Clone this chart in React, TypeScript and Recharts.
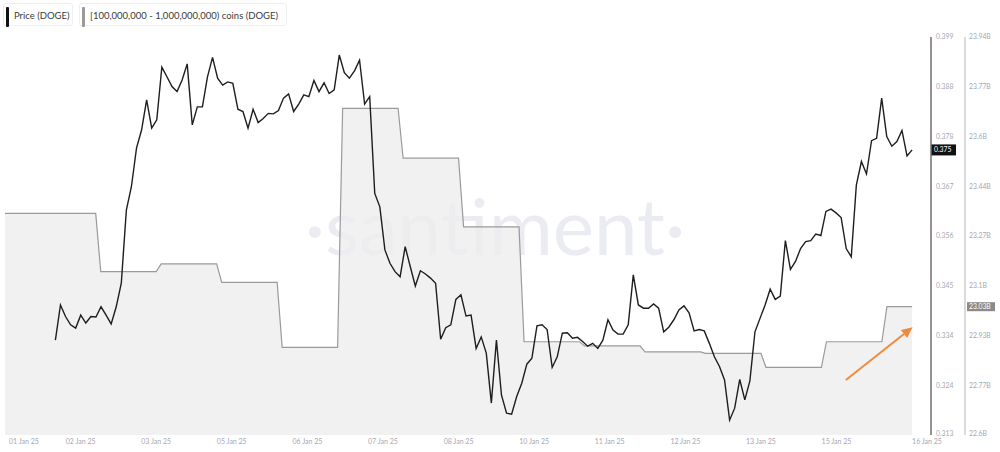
import React from 'react';
import { ComposedChart, Line, Area, XAxis, YAxis, ReferenceLine } from 'recharts';

// ---- X axis (hours since chart start) ----
const xTickHours = [0, 30, 60, 90, 120, 150, 180, 210, 240, 270, 300, 330, 360];
const xTickLabels = [
  '01 Jan 25', '02 Jan 25', '03 Jan 25', '05 Jan 25', '06 Jan 25', '07 Jan 25', '08 Jan 25',
  '10 Jan 25', '11 Jan 25', '12 Jan 25', '13 Jan 25', '15 Jan 25', '16 Jan 25',
];
const xDomainEnd = 367.5;

// ---- Price (DOGE) ----
const priceStartHour = 20;
const priceEndHour = 360;
const priceValues = [
  0.3335, 0.3411, 0.3386, 0.3368, 0.3361, 0.3389, 0.3372, 0.3386, 0.3385, 0.3407,
  0.3389, 0.3370, 0.3407, 0.3458, 0.3616, 0.3667, 0.3750, 0.3789, 0.3854, 0.3793,
  0.3811, 0.3925, 0.3904, 0.3883, 0.3872, 0.3897, 0.3932, 0.3800, 0.3839, 0.3839,
  0.3904, 0.3946, 0.3901, 0.3886, 0.3893, 0.3890, 0.3834, 0.3829, 0.3793, 0.3834,
  0.3805, 0.3814, 0.3825, 0.3824, 0.3831, 0.3858, 0.3867, 0.3829, 0.3845, 0.3865,
  0.3861, 0.3896, 0.3872, 0.3891, 0.3868, 0.3876, 0.3951, 0.3913, 0.3901, 0.3917,
  0.3940, 0.3845, 0.3861, 0.3652, 0.3623, 0.3530, 0.3501, 0.3483, 0.3472, 0.3537,
  0.3494, 0.3452, 0.3485, 0.3478, 0.3469, 0.3458, 0.3337, 0.3362, 0.3368, 0.3423,
  0.3433, 0.3387, 0.3389, 0.3317, 0.3342, 0.3307, 0.3199, 0.3335, 0.3216, 0.3177,
  0.3175, 0.3213, 0.3242, 0.3283, 0.3296, 0.3366, 0.3368, 0.3358, 0.3276, 0.3299,
  0.3350, 0.3351, 0.3339, 0.3341, 0.3332, 0.3322, 0.3328, 0.3317, 0.3335, 0.3379,
  0.3357, 0.3348, 0.3348, 0.3368, 0.3476, 0.3411, 0.3404, 0.3404, 0.3413, 0.3404,
  0.3353, 0.3363, 0.3379, 0.3400, 0.3409, 0.3394, 0.3355, 0.3358, 0.3355, 0.3328,
  0.3299, 0.3278, 0.3249, 0.3162, 0.3188, 0.3250, 0.3206, 0.3247, 0.3353, 0.3382,
  0.3411, 0.3445, 0.3423, 0.3430, 0.3550, 0.3488, 0.3505, 0.3533, 0.3548, 0.3550,
  0.3564, 0.3561, 0.3613, 0.3618, 0.3610, 0.3600, 0.3533, 0.3515, 0.3670, 0.3721,
  0.3694, 0.3766, 0.3771, 0.3858, 0.3775, 0.3754, 0.3764, 0.3788, 0.3733, 0.3746,
];
const priceDomain = [0.313, 0.399];
const priceTickLabels = ['0.313', '0.324', '0.334', '0.345', '0.356', '0.367', '0.378', '0.388', '0.399'];
const lastPriceLabel = '0.375';

// ---- [100,000,000 - 1,000,000,000) coins (DOGE), daily, in billions ----
const coinDailyValues = [
  23.346, 23.150, 23.176, 23.114, 22.895, 23.700, 23.532, 23.301,
  22.914, 22.900, 22.880, 22.875, 22.828, 22.914, 23.032,
];
const coinFirstChangeHour = 36;
const hoursPerDay = 24;
const coinTransitionHours = 2;
const coinDomain = [22.6, 23.94];
const coinTickLabels = ['22.6B', '22.77B', '22.93B', '23.1B', '23.27B', '23.44B', '23.6B', '23.77B', '23.94B'];
const lastCoinLabel = '23.03B';

// ---- annotation arrow (hour, price) ----
const arrowStart = { h: 333.7, price: 0.3249 };
const arrowEnd = { h: 360.2, price: 0.3363 };

// ---- derived tables ----
const priceStep = (priceEndHour - priceStartHour) / (priceValues.length - 1);
const priceData = priceValues.map((v, i) => ({ h: priceStartHour + i * priceStep, price: v }));

const coinData: { h: number; coins: number }[] = [];
coinDailyValues.forEach((v, k) => {
  const start = k === 0 ? 0 : coinFirstChangeHour + hoursPerDay * (k - 1) + coinTransitionHours;
  const end = k === coinDailyValues.length - 1 ? priceEndHour : coinFirstChangeHour + hoursPerDay * k;
  coinData.push({ h: start, coins: v });
  coinData.push({ h: end, coins: v });
});

const evenTicks = (d: number[], n: number) =>
  Array.from({ length: n }, (_, i) => d[0] + ((d[1] - d[0]) * i) / (n - 1));
const priceTicks = evenTicks(priceDomain, priceTickLabels.length);
const coinTicks = evenTicks(coinDomain, coinTickLabels.length);

const FONT = 'Lato, "Open Sans", sans-serif';
const AXIS_COLOR = '#a4a8b3';
const PRICE_AXIS = 'a_price';
const COIN_AXIS = 'b_coin';

const XTick = (props: any) => {
  const { x, y, payload } = props;
  const idx = xTickHours.indexOf(payload.value);
  const last = idx === xTickHours.length - 1;
  const first = idx === 0;
  return (
    <text
      x={first ? x + 4 : x}
      y={y}
      dy="0.71em"
      textAnchor={first || last ? 'start' : 'middle'}
      fontSize={7}
      fontFamily={FONT}
      fill={AXIS_COLOR}
    >
      {xTickLabels[idx]}
    </text>
  );
};

const makeYTick = (ticks: number[], labels: string[]) => (props: any) => {
  const { x, y, payload } = props;
  const idx = ticks.findIndex((t) => Math.abs(t - payload.value) < 1e-9);
  return (
    <text
      x={x}
      y={idx === 0 ? y - 1.5 : y}
      dy="0.35em"
      textAnchor="start"
      fontSize={6.8}
      fontFamily={FONT}
      fill={AXIS_COLOR}
    >
      {labels[idx]}
    </text>
  );
};
const PriceYTick = makeYTick(priceTicks, priceTickLabels);
const CoinYTick = makeYTick(coinTicks, coinTickLabels);

const PriceTag = (props: any) => {
  const vb = props.viewBox || {};
  const x = vb.x + vb.width;
  const y = vb.y;
  return (
    <g>
      <rect x={x} y={y - 5.5} width={25} height={11} fill="#111" />
      <text x={x + 3} y={y} dy="0.35em" fontSize={6.8} fontFamily={FONT} fill="#fff">
        {lastPriceLabel}
      </text>
    </g>
  );
};

const CoinTag = (props: any) => {
  const vb = props.viewBox || {};
  const x = vb.x + vb.width + 36;
  const y = vb.y;
  return (
    <g>
      <rect x={x} y={y - 4.5} width={28} height={9} fill="#8a8a8a" />
      <text x={x + 2} y={y} dy="0.35em" fontSize={6.8} fontFamily={FONT} fill="#fff">
        {lastCoinLabel}
      </text>
    </g>
  );
};

const Arrow = (props: any) => {
  const { x1, y1, x2, y2 } = props;
  if ([x1, y1, x2, y2].some((v) => typeof v !== 'number')) return null;
  const dx = x2 - x1;
  const dy = y2 - y1;
  const len = Math.sqrt(dx * dx + dy * dy);
  const ux = dx / len;
  const uy = dy / len;
  const headLen = 11;
  const headW = 5;
  const bx = x2 - ux * headLen;
  const by = y2 - uy * headLen;
  const px = -uy;
  const py = ux;
  return (
    <g>
      <line x1={x1} y1={y1} x2={bx} y2={by} stroke="#f08a3c" strokeWidth={2} />
      <polygon
        points={`${x2},${y2} ${bx + px * headW},${by + py * headW} ${bx - px * headW},${by - py * headW}`}
        fill="#f08a3c"
      />
    </g>
  );
};

const LegendItem = ({ left, width, bar, text }: { left: number; width: number; bar: string; text: string }) => (
  <div
    style={{
      position: 'absolute',
      left,
      top: 3,
      width,
      height: 23,
      border: '1px solid #eeeeee',
      borderRadius: 3,
      boxSizing: 'border-box',
      background: '#fff',
    }}
  >
    <div style={{ position: 'absolute', left: 2, top: 3, width: 3, height: 20, background: bar, borderRadius: 1 }} />
    <div
      style={{
        position: 'absolute',
        left: 10,
        top: 0,
        lineHeight: '23px',
        fontSize: 9.5,
        fontFamily: FONT,
        color: '#3a3a3a',
        whiteSpace: 'nowrap',
      }}
    >
      {text}
    </div>
  </div>
);

export default function App() {
  return (
    <div style={{ position: 'absolute', left: 0, top: 0, width: 1000, height: 452, background: '#fff', overflow: 'hidden' }}>
      <svg width={1000} height={452} style={{ position: 'absolute', left: 0, top: 0, pointerEvents: 'none' }}>
        <text
          x={495}
          y={255}
          textAnchor="middle"
          fontSize={78}
          fontWeight={400}
          fontFamily={FONT}
          fill="#eaecf2"
        >
          ·santiment·
        </text>
      </svg>
      <div style={{ position: 'absolute', left: 0, top: 0 }}>
        <ComposedChart width={1000} height={452} margin={{ top: 37, right: 0, bottom: 0, left: 5 }}>
          <XAxis
            dataKey="h"
            type="number"
            domain={[0, xDomainEnd]}
            ticks={xTickHours}
            allowDataOverflow
            axisLine={false}
            tickLine={false}
            tickSize={0}
            tickMargin={4}
            height={17}
            tick={<XTick />}
            interval={0}
          />
          <YAxis
            yAxisId={PRICE_AXIS}
            orientation="right"
            width={34}
            domain={priceDomain}
            ticks={priceTicks}
            allowDataOverflow
            interval={0}
            axisLine={{ stroke: '#6f6f6f', strokeWidth: 1.5 }}
            tickLine={false}
            tickSize={0}
            tickMargin={5}
            tick={<PriceYTick />}
          />
          <YAxis
            yAxisId={COIN_AXIS}
            orientation="right"
            width={35}
            domain={coinDomain}
            ticks={coinTicks}
            allowDataOverflow
            interval={0}
            axisLine={{ stroke: '#b5b5b5', strokeWidth: 1 }}
            tickLine={false}
            tickSize={0}
            tickMargin={4}
            tick={<CoinYTick />}
          />
          <Area
            yAxisId={COIN_AXIS}
            data={coinData}
            dataKey="coins"
            type="linear"
            stroke="#9a9a9a"
            strokeWidth={1.2}
            fill="#eeeeee"
            fillOpacity={0.8}
            dot={false}
            activeDot={false}
            isAnimationActive={false}
          />
          <Line
            yAxisId={PRICE_AXIS}
            data={priceData}
            dataKey="price"
            type="linear"
            stroke="#1e1e1e"
            strokeWidth={1.4}
            dot={false}
            activeDot={false}
            isAnimationActive={false}
          />
          <ReferenceLine
            yAxisId={PRICE_AXIS}
            y={priceValues[priceValues.length - 1]}
            stroke="none"
            ifOverflow="visible"
            label={<PriceTag />}
          />
          <ReferenceLine
            yAxisId={COIN_AXIS}
            y={coinDailyValues[coinDailyValues.length - 1]}
            stroke="none"
            ifOverflow="visible"
            label={<CoinTag />}
          />
          <ReferenceLine
            yAxisId={PRICE_AXIS}
            segment={[
              { x: arrowStart.h, y: arrowStart.price },
              { x: arrowEnd.h, y: arrowEnd.price },
            ]}
            ifOverflow="visible"
            shape={<Arrow />}
          />
        </ComposedChart>
      </div>
      <LegendItem left={3} width={70} bar="#111" text="Price (DOGE)" />
      <LegendItem left={79} width={208} bar="#9a9a9a" text="[100,000,000 - 1,000,000,000) coins (DOGE)" />
    </div>
  );
}
